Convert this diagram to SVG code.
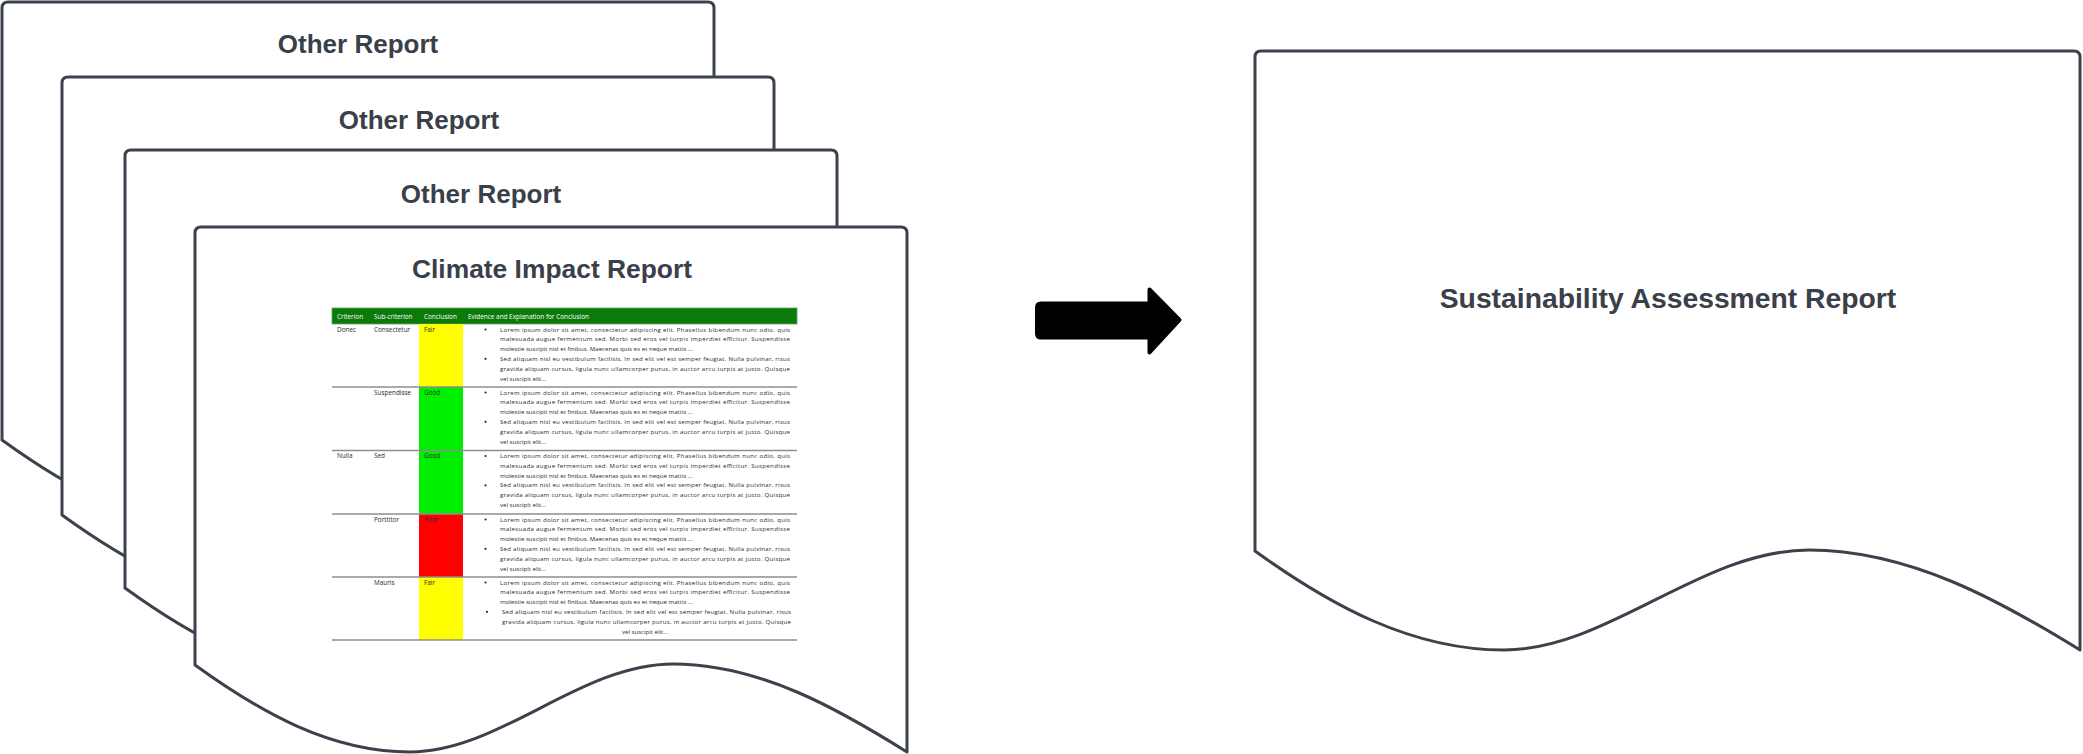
<svg xmlns="http://www.w3.org/2000/svg" width="2083" height="754" viewBox="0 0 2083 754">
<style>
.doc{fill:#ffffff;stroke:#3c424b;stroke-width:3;stroke-linejoin:round}
.title{font-family:"Liberation Sans",Arial,sans-serif;font-weight:bold;fill:#3a4049;text-anchor:middle}
.t26{font-size:26px}
.hdr{font-family:"Open Sans","Liberation Sans",sans-serif;font-size:6.4px;fill:#ffffff}
.cell{font-family:"Open Sans","Liberation Sans",sans-serif;font-size:6.4px;fill:#2a2a2a}
.lorem{font-family:"Open Sans","Liberation Sans",sans-serif;font-size:6.1px;fill:#2a2a2a}
.sep{stroke:#8e8e8e;stroke-width:1.6}
.bul{fill:#2a2a2a}
</style>
<defs>
<path id="docShape" d="M0,6 Q0,0 6,0 H706 Q712,0 712,6 V525 C645,483 565,437 478,437 C385,437 305,525 215,525 C135,525 65,485 0,438 Z"/>
<g id="loremA">
<text class="lorem" x="500" y="7.5" textLength="290" lengthAdjust="spacing">Lorem ipsum dolor sit amet, consectetur adipiscing elit. Phasellus bibendum nunc odio, quis</text>
<text class="lorem" x="500" y="17.3" textLength="290" lengthAdjust="spacing">malesuada augue fermentum sed. Morbi sed eros vel turpis imperdiet efficitur. Suspendisse</text>
<text class="lorem" x="500" y="27.1">molestie suscipit nisl et finibus. Maecenas quis ex et neque mattis ...</text>
<circle class="bul" cx="485.5" cy="5.5" r="1.1"/>
</g>
<g id="lorem">
<use href="#loremA"/>
<circle class="bul" cx="485.5" cy="34.8" r="1.1"/>
<text class="lorem" x="500" y="36.9" textLength="290" lengthAdjust="spacing">Sed aliquam nisl eu vestibulum facilisis. In sed elit vel est semper feugiat. Nulla pulvinar, risus</text>
<text class="lorem" x="500" y="46.7" textLength="290" lengthAdjust="spacing">gravida aliquam cursus, ligula nunc ullamcorper purus, in auctor arcu turpis at justo. Quisque</text>
<text class="lorem" x="500" y="56.5">vel suscipit elit...</text>
</g>
</defs>
<rect width="2083" height="754" fill="#ffffff"/>

<g id="doc1" transform="translate(2,2)">
<use href="#docShape" class="doc"/>
<text class="title t26" x="356" y="51">Other Report</text>
</g>

<g id="doc2" transform="translate(62,77)">
<use href="#docShape" class="doc"/>
<text class="title t26" x="357" y="52">Other Report</text>
</g>

<g id="doc3" transform="translate(125,150)">
<use href="#docShape" class="doc"/>
<text class="title t26" x="356" y="53">Other Report</text>
</g>

<g id="doc4">
<use href="#docShape" class="doc" transform="translate(195,227)"/>
<text class="title" x="552" y="278" font-size="26.4">Climate Impact Report</text>
<g id="table">
<rect x="332" y="308" width="465" height="16" fill="#0b7a0b" stroke="#5aa35a" stroke-width="0.8"/>
<text class="hdr" x="337" y="318.5">Criterion</text>
<text class="hdr" x="374" y="318.5">Sub-criterion</text>
<text class="hdr" x="424" y="318.5">Conclusion</text>
<text class="hdr" x="468" y="318.5">Evidence and Explanation for Conclusion</text>

<rect x="419" y="324" width="44" height="63" fill="#ffff00"/>
<rect x="419" y="387" width="44" height="63.5" fill="#00ee00"/>
<rect x="419" y="450.5" width="44" height="63.5" fill="#00ee00"/>
<rect x="419" y="514" width="44" height="63" fill="#ff0000"/>
<rect x="419" y="577" width="44" height="63" fill="#ffff00"/>

<line class="sep" x1="332" y1="387" x2="797" y2="387"/>
<line class="sep" x1="332" y1="450.5" x2="797" y2="450.5"/>
<line class="sep" x1="332" y1="514" x2="797" y2="514"/>
<line class="sep" x1="332" y1="577" x2="797" y2="577"/>
<line class="sep" x1="332" y1="640" x2="797" y2="640"/>

<text class="cell" x="337" y="331.5">Donec</text>
<text class="cell" x="374" y="331.5">Consectetur</text>
<text class="cell" x="424" y="331.5">Fair</text>
<use href="#lorem" transform="translate(0,324)"/>

<text class="cell" x="374" y="394.5">Suspendisse</text>
<text class="cell" x="424" y="394.5" fill="#2f5e1a">Good</text>
<use href="#lorem" transform="translate(0,387)"/>

<text class="cell" x="337" y="458">Nulla</text>
<text class="cell" x="374" y="458">Sed</text>
<text class="cell" x="424" y="458" fill="#2f5e1a">Good</text>
<use href="#lorem" transform="translate(0,450.5)"/>

<text class="cell" x="374" y="521.5">Porttitor</text>
<text class="cell" x="424" y="521.5" fill="#6a1010">Poor</text>
<use href="#lorem" transform="translate(0,514)"/>

<text class="cell" x="374" y="584.5">Mauris</text>
<text class="cell" x="424" y="584.5">Fair</text>
<use href="#loremA" transform="translate(0,577)"/>
<circle class="bul" cx="487" cy="611.8" r="1.1"/>
<text class="lorem" x="502" y="613.9" textLength="289" lengthAdjust="spacing">Sed aliquam nisl eu vestibulum facilisis. In sed elit vel est semper feugiat. Nulla pulvinar, risus</text>
<text class="lorem" x="502" y="623.7" textLength="289" lengthAdjust="spacing">gravida aliquam cursus, ligula nunc ullamcorper purus, in auctor arcu turpis at justo. Quisque</text>
<text class="lorem" x="645" y="633.5" text-anchor="middle">vel suscipit elit...</text>
</g>
</g>

<g id="connectors">
<path d="M1041,303.5 H1149.5 V289.5 L1179.5,320 L1149.5,352.5 V337.5 H1041 Q1037,337.5 1037,333.5 V307.5 Q1037,303.5 1041,303.5 Z" fill="#000000" stroke="#000000" stroke-width="4" stroke-linejoin="round"/>
</g>

<g id="sustainability">
<path class="doc" transform="translate(1255,51)" d="M0,6 Q0,0 6,0 H819 Q825,0 825,6 V599 C747,551 655,499 554,499 C446,499 353,599 249,599 C156,599 75,554 0,500 Z"/>
<text class="title" x="1668" y="308" font-size="28.3">Sustainability Assessment Report</text>
</g>
</svg>
